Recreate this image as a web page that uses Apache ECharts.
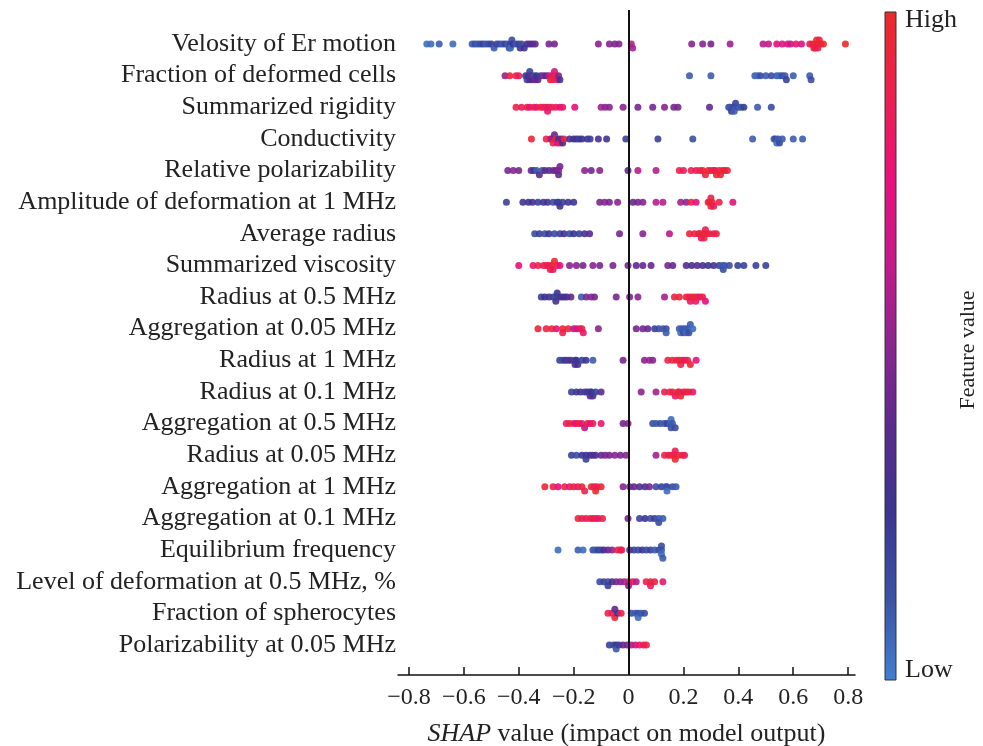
<!DOCTYPE html>
<html>
<head>
<meta charset="utf-8">
<script src="https://cdn.jsdelivr.net/npm/echarts@6/dist/echarts.min.js"></script>
<style>
  html, body { margin: 0; padding: 0; background: #fff; }
  #chart { width: 983px; height: 746px; }
</style>
</head>
<body>
<div id="chart"></div>
<script>
// 特征名称（从上到下）
const features = [
  'Velosity of Er motion', 'Fraction of deformed cells', 'Summarized rigidity', 'Conductivity',
  'Relative polarizability', 'Amplitude of deformation at 1 MHz', 'Average radius', 'Summarized viscosity',
  'Radius at 0.5 MHz', 'Aggregation at 0.05 MHz', 'Radius at 1 MHz', 'Radius at 0.1 MHz',
  'Aggregation at 0.5 MHz', 'Radius at 0.05 MHz', 'Aggregation at 1 MHz', 'Aggregation at 0.1 MHz',
  'Equilibrium frequency', 'Level of deformation at 0.5 MHz, %', 'Fraction of spherocytes', 'Polarizability at 0.05 MHz'
];

const xTicks = [-0.8, -0.6, -0.4, -0.2, 0, 0.2, 0.4, 0.6, 0.8];

// 每个特征: [SHAP 值, 特征值(0 低 - 1 高)]
const velosity = [[-0.735,0.05],[-0.72,0.05],[-0.69,0.1],[-0.64,0.05],[-0.57,0.1],[-0.56,0.15],[-0.55,0.1],[-0.54,0.15],[-0.53,0.2],[-0.52,0.1],[-0.51,0.15],[-0.50,0.2],[-0.49,0.1],[-0.48,0.2],[-0.47,0.15],[-0.46,0.1],[-0.45,0.2],[-0.44,0.1],[-0.435,0.15],[-0.43,0.2],[-0.43,0.05],[-0.425,0.15],[-0.42,0.25],[-0.41,0.1],[-0.40,0.2],[-0.395,0.3],[-0.39,0.15],[-0.38,0.25],[-0.37,0.3],[-0.36,0.35],[-0.35,0.3],[-0.34,0.4],[-0.29,0.45],[-0.27,0.45],[-0.11,0.5],[-0.07,0.5],[-0.05,0.45],[-0.035,0.5],[0.01,0.6],[0.015,0.55],[0.23,0.5],[0.27,0.5],[0.30,0.45],[0.37,0.55],[0.49,0.6],[0.51,0.65],[0.54,0.75],[0.56,0.7],[0.58,0.75],[0.59,0.65],[0.61,0.8],[0.63,0.7],[0.66,0.85],[0.67,0.9],[0.675,0.95],[0.68,1],[0.68,0.9],[0.685,0.95],[0.69,1],[0.69,0.85],[0.695,0.95],[0.70,0.9],[0.71,1],[0.79,1]];
const deformedCells = [[-0.45,0.5],[-0.433,0.95],[-0.41,0.9],[-0.40,0.85],[-0.375,0.3],[-0.37,0.2],[-0.365,0.25],[-0.36,0.35],[-0.36,0.2],[-0.355,0.4],[-0.35,0.3],[-0.345,0.15],[-0.34,0.45],[-0.335,0.25],[-0.33,0.35],[-0.32,0.2],[-0.31,0.5],[-0.30,0.3],[-0.29,0.6],[-0.285,0.9],[-0.28,0.85],[-0.275,0.95],[-0.27,0.7],[-0.265,0.9],[-0.26,0.8],[-0.255,0.5],[-0.25,0.3],[0.222,0.1],[0.30,0.1],[0.46,0.1],[0.47,0.05],[0.48,0.15],[0.50,0.1],[0.52,0.15],[0.54,0.1],[0.55,0.05],[0.56,0.15],[0.57,0.1],[0.575,0.2],[0.60,0.1],[0.66,0.1],[0.665,0.15]];
const rigidity = [[-0.41,0.9],[-0.39,0.85],[-0.37,0.95],[-0.36,0.75],[-0.345,0.9],[-0.335,0.8],[-0.32,0.95],[-0.31,0.85],[-0.30,0.9],[-0.295,0.8],[-0.29,0.7],[-0.28,0.9],[-0.265,0.85],[-0.25,0.75],[-0.24,0.8],[-0.196,0.75],[-0.10,0.55],[-0.085,0.5],[-0.07,0.5],[-0.02,0.5],[0.034,0.45],[0.088,0.45],[0.131,0.5],[0.165,0.45],[0.18,0.45],[0.295,0.4],[0.365,0.15],[0.37,0.1],[0.375,0.2],[0.38,0.15],[0.385,0.1],[0.39,0.2],[0.40,0.15],[0.41,0.1],[0.42,0.2],[0.47,0.1],[0.52,0.15]];
const conductivity = [[-0.354,0.95],[-0.30,0.9],[-0.285,0.85],[-0.28,0.5],[-0.275,0.9],[-0.27,0.4],[-0.265,0.95],[-0.26,0.7],[-0.255,0.3],[-0.25,0.85],[-0.245,0.4],[-0.24,0.3],[-0.235,0.9],[-0.215,0.3],[-0.20,0.25],[-0.19,0.3],[-0.18,0.2],[-0.17,0.25],[-0.15,0.3],[-0.14,0.2],[-0.11,0.3],[-0.08,0.25],[-0.01,0.2],[0.107,0.2],[0.234,0.15],[0.452,0.1],[0.53,0.1],[0.535,0.15],[0.54,0.05],[0.545,0.1],[0.55,0.15],[0.56,0.1],[0.60,0.1],[0.634,0.1]];
const relPolar = [[-0.44,0.45],[-0.42,0.5],[-0.40,0.45],[-0.355,0.4],[-0.345,0.3],[-0.335,0.1],[-0.325,0.35],[-0.315,0.1],[-0.305,0.4],[-0.29,0.35],[-0.275,0.45],[-0.265,0.4],[-0.255,0.5],[-0.255,0.4],[-0.25,0.45],[-0.16,0.5],[-0.136,0.45],[-0.105,0.5],[-0.002,0.4],[0.034,0.6],[0.10,0.6],[0.185,0.9],[0.20,0.85],[0.228,0.9],[0.246,0.8],[0.26,0.95],[0.27,0.9],[0.28,0.95],[0.29,1],[0.30,0.9],[0.31,0.95],[0.315,0.85],[0.32,1],[0.33,0.9],[0.335,0.95],[0.343,1],[0.35,0.9],[0.36,0.95]];
const amplitude = [[-0.445,0.2],[-0.385,0.3],[-0.365,0.25],[-0.35,0.3],[-0.33,0.2],[-0.31,0.25],[-0.295,0.3],[-0.275,0.15],[-0.26,0.25],[-0.255,0.2],[-0.25,0.3],[-0.24,0.2],[-0.22,0.3],[-0.2,0.25],[-0.105,0.45],[-0.087,0.5],[-0.07,0.45],[-0.04,0.5],[0.016,0.4],[0.034,0.45],[0.052,0.5],[0.10,0.6],[0.125,0.6],[0.19,0.55],[0.21,0.5],[0.228,0.9],[0.246,0.75],[0.29,0.9],[0.295,0.95],[0.30,1],[0.30,0.9],[0.305,0.95],[0.31,0.85],[0.33,0.9],[0.38,0.75]];
const avgRadius = [[-0.342,0.15],[-0.325,0.2],[-0.305,0.15],[-0.29,0.25],[-0.27,0.15],[-0.25,0.2],[-0.235,0.3],[-0.215,0.15],[-0.2,0.25],[-0.18,0.2],[-0.16,0.3],[-0.142,0.35],[-0.033,0.45],[0.052,0.5],[0.149,0.6],[0.222,0.95],[0.24,0.9],[0.255,0.85],[0.26,0.95],[0.265,0.8],[0.27,1],[0.275,0.9],[0.28,0.85],[0.285,0.95],[0.295,0.9],[0.31,0.85],[0.32,0.9]];
const viscosity = [[-0.40,0.75],[-0.348,0.8],[-0.33,0.9],[-0.31,0.85],[-0.30,0.95],[-0.29,0.8],[-0.285,0.9],[-0.28,0.95],[-0.275,0.85],[-0.27,1],[-0.26,0.9],[-0.25,0.75],[-0.215,0.5],[-0.19,0.5],[-0.166,0.45],[-0.13,0.5],[-0.105,0.45],[-0.057,0.45],[-0.002,0.45],[0.028,0.4],[0.052,0.4],[0.082,0.4],[0.143,0.45],[0.161,0.4],[0.21,0.35],[0.23,0.3],[0.25,0.35],[0.27,0.3],[0.29,0.25],[0.31,0.3],[0.33,0.2],[0.343,0.1],[0.345,0.15],[0.35,0.1],[0.367,0.15],[0.398,0.2],[0.42,0.2],[0.464,0.2],[0.50,0.2]];
const radius05 = [[-0.318,0.2],[-0.305,0.25],[-0.29,0.3],[-0.275,0.2],[-0.265,0.15],[-0.265,0.3],[-0.26,0.25],[-0.255,0.2],[-0.245,0.35],[-0.235,0.25],[-0.225,0.3],[-0.21,0.4],[-0.172,0.1],[-0.154,0.45],[-0.136,0.5],[-0.124,0.45],[-0.045,0.45],[0.004,0.45],[0.034,0.5],[0.131,0.55],[0.167,0.9],[0.185,0.95],[0.21,0.9],[0.22,0.95],[0.225,0.8],[0.23,0.9],[0.24,1],[0.245,0.85],[0.25,0.9],[0.26,0.8],[0.27,0.9],[0.28,0.75]];
const agg005 = [[-0.33,0.95],[-0.30,0.9],[-0.28,0.95],[-0.263,0.75],[-0.24,1],[-0.24,0.9],[-0.22,0.95],[-0.20,0.6],[-0.19,0.7],[-0.178,0.75],[-0.17,0.9],[-0.165,0.8],[-0.11,0.5],[0.028,0.45],[0.052,0.45],[0.07,0.4],[0.095,0.2],[0.11,0.15],[0.125,0.1],[0.137,0.15],[0.137,0.1],[0.185,0.1],[0.19,0.05],[0.195,0.1],[0.2,0.15],[0.205,0.1],[0.21,0.05],[0.215,0.1],[0.22,0.15],[0.225,0.1],[0.234,0.05]];
const radius1 = [[-0.251,0.2],[-0.24,0.15],[-0.23,0.3],[-0.22,0.2],[-0.21,0.35],[-0.195,0.2],[-0.195,0.3],[-0.19,0.25],[-0.185,0.3],[-0.17,0.2],[-0.155,0.25],[-0.13,0.1],[-0.02,0.45],[0.058,0.5],[0.076,0.55],[0.088,0.5],[0.143,0.9],[0.16,0.95],[0.175,0.85],[0.185,1],[0.19,0.9],[0.195,0.95],[0.205,0.8],[0.215,0.9],[0.225,0.95],[0.246,0.75]];
const radius01 = [[-0.208,0.2],[-0.19,0.25],[-0.175,0.3],[-0.16,0.2],[-0.15,0.3],[-0.14,0.2],[-0.14,0.35],[-0.135,0.25],[-0.13,0.3],[-0.12,0.2],[-0.10,0.35],[0.046,0.5],[0.10,0.55],[0.131,0.85],[0.15,0.9],[0.16,0.95],[0.17,0.8],[0.18,0.95],[0.185,0.9],[0.19,1],[0.20,0.85],[0.21,0.9],[0.22,0.95],[0.234,0.8]];
const agg05 = [[-0.227,0.8],[-0.215,0.9],[-0.20,0.85],[-0.19,0.75],[-0.18,0.95],[-0.17,0.8],[-0.16,0.6],[-0.15,0.9],[-0.14,0.75],[-0.13,0.85],[-0.10,0.8],[-0.02,0.45],[-0.002,0.5],[0.088,0.15],[0.10,0.1],[0.115,0.15],[0.13,0.1],[0.14,0.2],[0.15,0.1],[0.155,0.15],[0.155,0.05],[0.16,0.1],[0.17,0.15]];
const radius005 = [[-0.208,0.2],[-0.19,0.15],[-0.17,0.25],[-0.155,0.3],[-0.155,0.2],[-0.14,0.25],[-0.13,0.35],[-0.12,0.3],[-0.10,0.4],[-0.085,0.45],[-0.07,0.45],[-0.05,0.5],[-0.03,0.45],[-0.01,0.5],[0.10,0.55],[0.131,0.9],[0.145,0.85],[0.155,0.95],[0.165,0.9],[0.17,1],[0.17,0.85],[0.18,0.9],[0.195,0.95],[0.204,0.85]];
const agg1 = [[-0.305,0.95],[-0.275,0.9],[-0.257,0.75],[-0.233,0.9],[-0.215,0.8],[-0.2,0.9],[-0.185,0.85],[-0.17,0.95],[-0.16,0.9],[-0.136,0.95],[-0.125,0.9],[-0.12,1],[-0.115,0.85],[-0.10,0.95],[-0.02,0.5],[0.004,0.45],[0.02,0.4],[0.04,0.35],[0.06,0.3],[0.076,0.45],[0.10,0.15],[0.12,0.2],[0.135,0.1],[0.14,0.15],[0.14,0.05],[0.16,0.15],[0.173,0.1]];
const agg01 = [[-0.184,0.95],[-0.17,0.9],[-0.155,0.8],[-0.14,0.95],[-0.13,0.85],[-0.12,0.9],[-0.11,0.8],[-0.095,0.9],[-0.002,0.45],[0.04,0.2],[0.06,0.25],[0.08,0.15],[0.095,0.2],[0.11,0.1],[0.11,0.15],[0.125,0.1]];
const equilibrium = [[-0.257,0.05],[-0.184,0.1],[-0.166,0.05],[-0.13,0.15],[-0.12,0.1],[-0.11,0.2],[-0.10,0.15],[-0.09,0.3],[-0.075,0.4],[-0.06,0.5],[-0.04,0.9],[-0.03,0.95],[-0.025,0.85],[0.004,0.3],[0.02,0.2],[0.035,0.15],[0.05,0.25],[0.065,0.15],[0.08,0.2],[0.095,0.1],[0.11,0.15],[0.12,0.1],[0.12,0.05],[0.12,0.15],[0.125,0.1]];
const levelDeform = [[-0.105,0.15],[-0.09,0.2],[-0.075,0.15],[-0.075,0.2],[-0.06,0.3],[-0.045,0.45],[-0.03,0.5],[-0.015,0.55],[0.0,0.7],[0.0,0.5],[0.015,0.85],[0.028,0.6],[0.064,0.9],[0.08,0.95],[0.08,0.85],[0.095,0.9],[0.125,0.8]];
const spherocytes = [[-0.075,0.9],[-0.06,0.85],[-0.05,0.95],[-0.05,0.4],[-0.04,0.3],[-0.027,0.9],[0.01,0.15],[0.025,0.1],[0.035,0.15],[0.035,0.05],[0.045,0.1],[0.058,0.15]];
const polar005 = [[-0.07,0.2],[-0.055,0.15],[-0.045,0.25],[-0.045,0.1],[-0.035,0.2],[-0.02,0.4],[-0.005,0.45],[0.01,0.55],[0.025,0.65],[0.04,0.8],[0.055,0.85],[0.065,0.9]];

const rows = [velosity, deformedCells, rigidity, conductivity, relPolar, amplitude, avgRadius, viscosity,
  radius05, agg005, radius1, radius01, agg05, radius005, agg1, agg01, equilibrium, levelDeform, spherocytes, polar005];

// 颜色条（低 -> 高）
const colorStops = ['#407fd2', '#3c52a6', '#3b3591', '#5a2a8e', '#8a2590', '#c41a8a', '#e8107c', '#ec1f50', '#ea2a2a'];

const SERIF = '"Liberation Serif", "DejaVu Serif", serif';
const BIN = 0.011;
const STEP = 0.13;

// 蜂群布局：同一小区间内的点上下交替堆叠
function swarm(points, row) {
  const bins = {};
  return points.slice().sort((a, b) => a[0] - b[0]).map(p => {
    const k = Math.round(p[0] / BIN);
    const n = bins[k] = (bins[k] || 0) + 1;
    const layer = Math.floor(n / 2) * (n % 2 === 0 ? 1 : -1);
    return [p[0], row + layer * STEP, p[1]];
  });
}

const scatterData = [];
rows.forEach((pts, i) => scatterData.push(...swarm(pts, i)));

function fmtTick(v) {
  if (v === 0) return '0';
  return (v < 0 ? '\u2212' : '') + Math.abs(v).toFixed(1);
}

const chart = echarts.init(document.getElementById('chart'));
const gradStops = colorStops.map((c, i) => ({ offset: 1 - i / (colorStops.length - 1), color: c })).reverse();

chart.setOption({
  animation: false,
  textStyle: { fontFamily: SERIF },
  grid: { left: 398, right: 128, top: 10, bottom: 71, outerBoundsMode: 'none', containLabel: false },
  xAxis: {
    type: 'value',
    position: 'bottom',
    min: -0.84,
    max: 0.825,
    splitLine: { show: false },
    axisLine: { onZero: false, lineStyle: { color: '#111', width: 1.5 } },
    axisTick: { inside: true, length: 8, customValues: xTicks, lineStyle: { color: '#111', width: 1.5 } },
    axisLabel: {
      customValues: xTicks, formatter: fmtTick, margin: 11,
      color: '#222', fontSize: 24, fontFamily: SERIF
    },
    name: '{i|SHAP} value (impact on model output)',
    nameLocation: 'middle',
    nameGap: 46,
    nameTextStyle: {
      color: '#222', fontSize: 26, fontFamily: SERIF,
      rich: { i: { fontStyle: 'italic', fontSize: 26, fontFamily: SERIF, color: '#222' } }
    }
  },
  yAxis: {
    type: 'value',
    inverse: true,
    min: -1.075,
    max: 19.95,
    axisLine: { show: false },
    axisTick: { show: false },
    splitLine: { show: false },
    axisLabel: {
      customValues: features.map((_, i) => i),
      formatter: v => features[Math.round(v)],
      margin: 2, padding: [0, 0, 7, 0],
      color: '#222', fontSize: 26, fontFamily: SERIF
    }
  },
  visualMap: {
    show: false,
    type: 'continuous',
    dimension: 2,
    min: 0,
    max: 1,
    inRange: { color: colorStops }
  },
  series: [{
    type: 'scatter',
    data: scatterData,
    symbolSize: 7,
    itemStyle: { opacity: 0.9 },
    markLine: {
      silent: true,
      symbol: 'none',
      label: { show: false },
      lineStyle: { color: '#111', width: 2, type: 'solid' },
      data: [{ xAxis: 0 }]
    },
    z: 3
  }],
  graphic: [
    {
      type: 'rect',
      shape: { x: 885, y: 12, width: 11, height: 668 },
      style: {
        fill: new echarts.graphic.LinearGradient(0, 0, 0, 1, gradStops),
        stroke: '#333', lineWidth: 1
      }
    },
    { type: 'text', x: 905, y: 20, style: { text: 'High', font: '26px ' + SERIF, fill: '#222', verticalAlign: 'middle' } },
    { type: 'text', x: 905, y: 670, style: { text: 'Low', font: '26px ' + SERIF, fill: '#222', verticalAlign: 'middle' } },
    {
      type: 'text', x: 968, y: 350, rotation: Math.PI / 2,
      style: { text: 'Feature value', font: '22px ' + SERIF, fill: '#222', align: 'center', verticalAlign: 'middle' }
    }
  ]
});
</script>
</body>
</html>
